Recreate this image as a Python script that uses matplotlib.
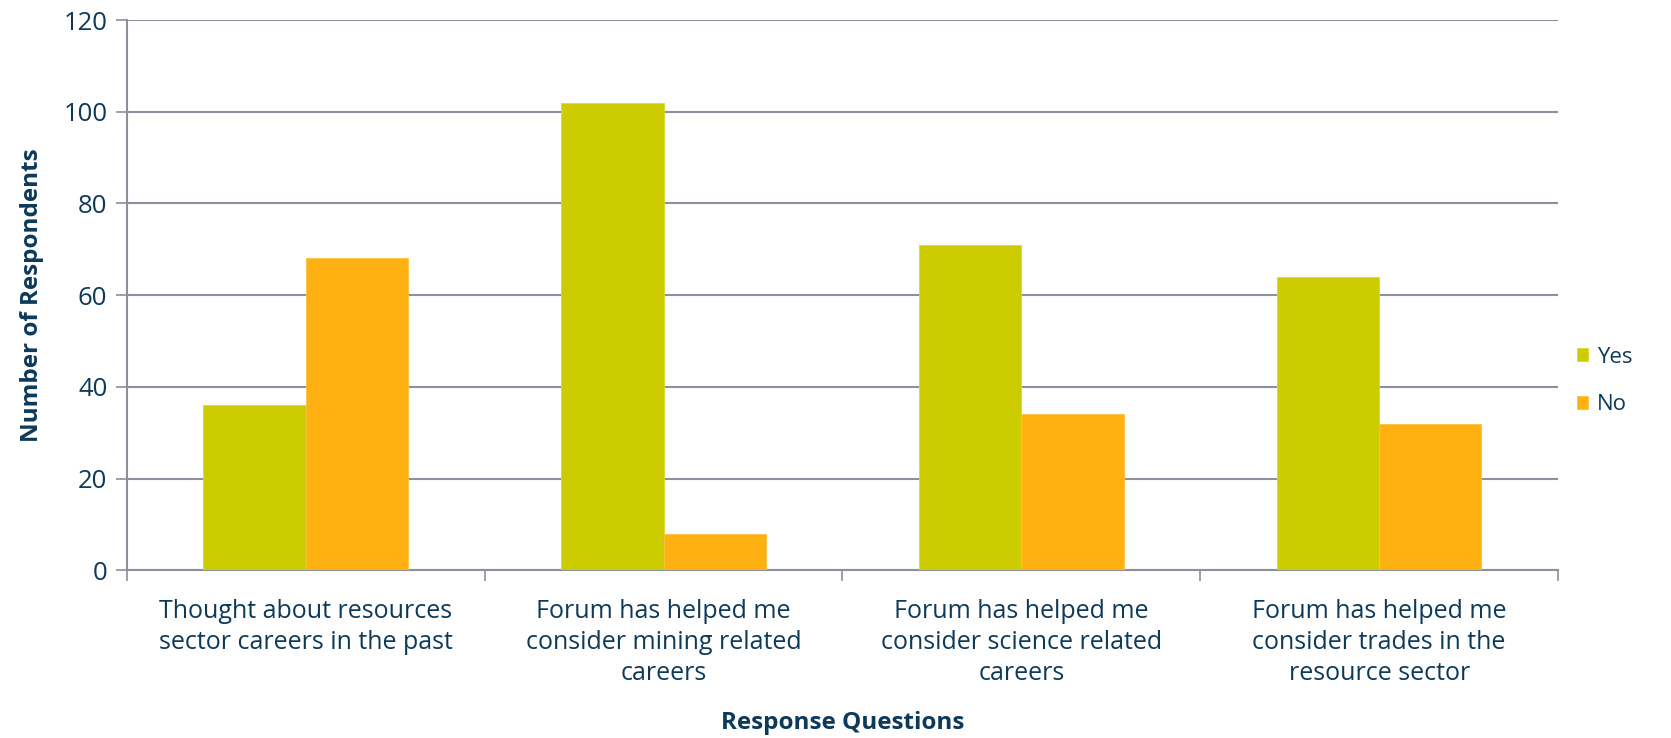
import numpy as np
import matplotlib.pyplot as plt

# Survey responses per question
questions = ["Thought about resources\nsector careers in the past",
             "Forum has helped me\nconsider mining related\ncareers",
             "Forum has helped me\nconsider science related\ncareers",
             "Forum has helped me\nconsider trades in the\nresource sector"]
yes_counts = [36, 102, 71, 64]
no_counts = [68, 8, 34, 32]
y_ticks = [0, 20, 40, 60, 80, 100, 120]

text_color = '#0e3a5a'
grid_color = '#8a909c'

plt.rcParams['font.family'] = ['Open Sans', 'DejaVu Sans']

fig = plt.figure(figsize=(16.71, 7.38), dpi=100)
ax = fig.add_axes([0.0759, 0.2274, 0.8565, 0.7453])

x = np.arange(len(questions)) + 0.5
w = 0.286
ax.bar(x - w / 2, yes_counts, width=w, color='#cccc00', edgecolor='#d8d830', linewidth=0.6, label='Yes', zorder=3)
ax.bar(x + w / 2, no_counts, width=w, color='#ffb111', edgecolor='#ffc040', linewidth=0.6, label='No', zorder=3)

ax.set_xlim(0, len(questions))
ax.set_ylim(0, 120)
ax.set_yticks(y_ticks)
ax.set_yticklabels([str(t) for t in y_ticks], fontsize=18.5, color=text_color)

# category boundaries get tick marks, labels sit at the centres
ax.set_xticks(np.arange(len(questions) + 1))
ax.set_xticklabels([])
ax.set_xticks(x, minor=True)
ax.set_xticklabels(questions, minor=True, fontsize=18, color=text_color, linespacing=1.3)
ax.tick_params(axis='x', which='minor', length=0, pad=21)
ax.tick_params(axis='x', which='major', length=8, color=grid_color, width=1.2)
ax.tick_params(axis='y', length=8, color=grid_color, width=1.2, pad=6)

ax.yaxis.grid(True, color=grid_color, linewidth=1.5, zorder=0)
ax.set_axisbelow(True)
for s in ['top', 'right']:
    ax.spines[s].set_visible(False)
for s in ['left', 'bottom']:
    ax.spines[s].set_color(grid_color)
    ax.spines[s].set_linewidth(1.5)

ax.set_ylabel("Number of Respondents", fontsize=17.5, fontweight='bold', color=text_color, labelpad=14)
ax.set_xlabel("Response Questions", fontsize=17.5, fontweight='bold', color=text_color, labelpad=18)

ax.legend(loc='center left', bbox_to_anchor=(0.999, 0.344), frameon=False, fontsize=16,
          labelcolor=text_color, handlelength=0.5, handleheight=0.5, handletextpad=0.4, labelspacing=1.2)

fig.savefig('out.png', dpi=100)
